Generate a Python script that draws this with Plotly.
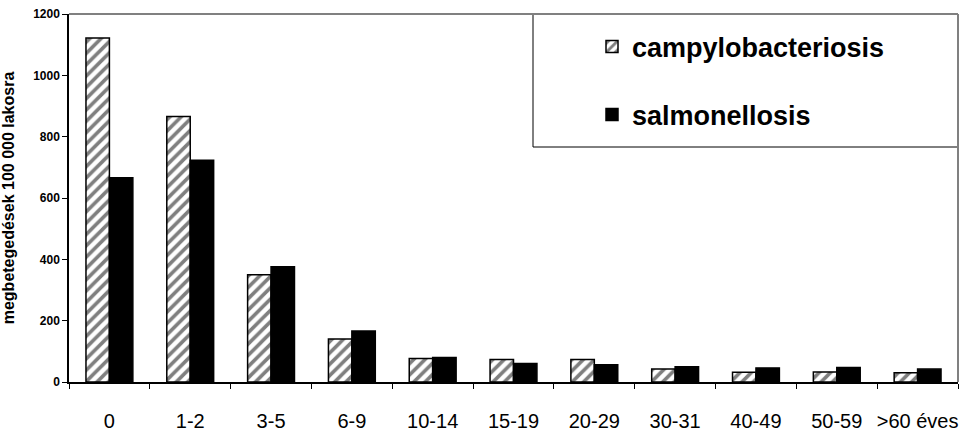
import plotly.graph_objects as go

age_groups = ["0", "1-2", "3-5", "6-9", "10-14", "15-19", "20-29", "30-31", "40-49", "50-59", ">60 éves"]
campylobacteriosis = [1122, 866, 350, 140, 77, 73, 73, 42, 32, 33, 30]
salmonellosis = [666, 723, 376, 166, 80, 60, 56, 50, 46, 47, 42]

FONT = "Arial, 'Liberation Sans', sans-serif"

fig = go.Figure()
fig.add_trace(go.Bar(
    x=age_groups, y=campylobacteriosis, name="campylobacteriosis",
    marker=dict(color="white", line=dict(color="black", width=1.5),
                pattern=dict(shape="/", fgcolor="black", bgcolor="white", size=8, solidity=0.45)),
    legend="legend", showlegend=True,
))
fig.add_trace(go.Bar(
    x=age_groups, y=salmonellosis, name="salmonellosis",
    marker=dict(color="black", line=dict(color="black", width=1.5)),
    legend="legend2", showlegend=True,
))

W, H = 976, 433
ml, mr, mt, mb = 69, 18, 14, 51
pw, ph = W - ml - mr, H - mt - mb

def px(x):
    return (x - ml) / pw

def py(y):
    return 1 - (y - mt) / ph

fig.update_layout(
    width=W, height=H,
    margin=dict(l=ml, r=mr, t=mt, b=mb, autoexpand=False),
    paper_bgcolor="white", plot_bgcolor="white",
    showlegend=True,
    barmode="group", bargap=0.42, bargroupgap=0,
    font=dict(family=FONT, color="black"),
    legend=dict(x=px(592), y=py(47), xanchor="left", yanchor="middle",
                font=dict(size=27, family=FONT, color="black", weight="bold"),
                bgcolor="rgba(0,0,0,0)", borderwidth=0, visible=True),
    legend2=dict(x=px(592), y=py(115), xanchor="left", yanchor="middle",
                 font=dict(size=27, family=FONT, color="black", weight="bold"),
                 bgcolor="rgba(0,0,0,0)", borderwidth=0, visible=True),
    xaxis=dict(showline=True, linecolor="black", linewidth=1.5,
               ticks="outside", tickson="boundaries", ticklen=5, tickcolor="black",
               tickfont=dict(size=20, family=FONT, color="black"), tickangle=0,
               ticklabelstandoff=20, showgrid=False, automargin=False),
    yaxis=dict(range=[0, 1200], dtick=200, showline=True, linecolor="black", linewidth=1.5,
               ticks="outside", ticklen=5, tickcolor="black",
               tickfont=dict(size=12, family=FONT, color="black", weight="bold"),
               showgrid=False, zeroline=False, automargin=False,
               title=dict(text="megbetegedések 100 000 lakosra",
                          font=dict(size=16, family=FONT, color="black", weight="bold"),
                          standoff=16)),
    shapes=[
        dict(type="line", xref="paper", yref="paper", x0=0, x1=1, y0=1, y1=1,
             line=dict(color="#808080", width=2)),
        dict(type="line", xref="paper", yref="paper", x0=1, x1=1, y0=0, y1=1,
             line=dict(color="#808080", width=2)),
        dict(type="rect", xref="paper", yref="paper", x0=px(533), x1=1, y0=py(147), y1=1,
             line=dict(color="black", width=1), fillcolor="white", layer="below"),
    ],
)

fig.write_html("out.html", config={"displayModeBar": False},
               post_script="document.body.style.margin='0px';")
